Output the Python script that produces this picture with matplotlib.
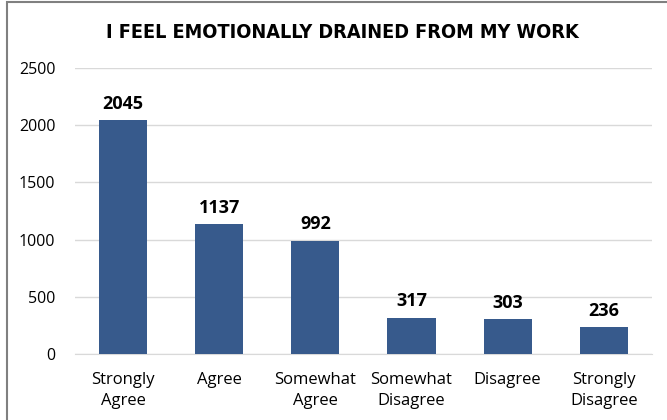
import matplotlib.pyplot as plt
from matplotlib.patches import Rectangle

# Survey responses
categories = ['Strongly\nAgree', 'Agree', 'Somewhat\nAgree', 'Somewhat\nDisagree',
              'Disagree', 'Strongly\nDisagree']
counts = [2045, 1137, 992, 317, 303, 236]
yticks = [0, 500, 1000, 1500, 2000, 2500]

BAR_COLOR = '#375A8C'
GRID_COLOR = '#D9D9D9'

plt.rcParams['font.family'] = ['Open Sans', 'DejaVu Sans']

fig = plt.figure(figsize=(6.67, 4.2), dpi=100)
ax = fig.add_axes([0.1124, 0.157, 0.865, 0.681])

x = range(len(categories))
ax.bar(x, counts, width=0.5, color=BAR_COLOR, zorder=3)

for xi, v in zip(x, counts):
    ax.text(xi, v + 65, str(v), ha='center', va='bottom',
            fontsize=13, fontweight='bold', color='black')

ax.set_xlim(-0.5, len(categories) - 0.5)
ax.set_ylim(0, 2500)
ax.set_yticks(yticks)
ax.set_yticklabels([str(t) for t in yticks], fontsize=11.5)
ax.set_xticks(list(x))
ax.set_xticklabels(categories, fontsize=12, linespacing=1.4)

ax.yaxis.grid(True, color=GRID_COLOR, linewidth=1)
ax.set_axisbelow(True)
for s in ['top', 'right', 'left']:
    ax.spines[s].set_visible(False)
ax.spines['bottom'].set_color(GRID_COLOR)
ax.tick_params(axis='both', length=0, colors='black')
ax.tick_params(axis='y', pad=14)
ax.tick_params(axis='x', pad=13)

fig.text(0.513, 0.922, 'I FEEL EMOTIONALLY DRAINED FROM MY WORK',
         ha='center', va='center', fontsize=14.2, fontweight='bold',
         fontstretch='condensed', family=['DejaVu Sans'])

# Chart frame
fig.patches.append(Rectangle((7 / 667, -0.1), 1.1, 1.1 - 2 / 420,
                             transform=fig.transFigure, fill=False,
                             edgecolor='#808080', linewidth=1.5))

fig.savefig('out.png', dpi=100)
